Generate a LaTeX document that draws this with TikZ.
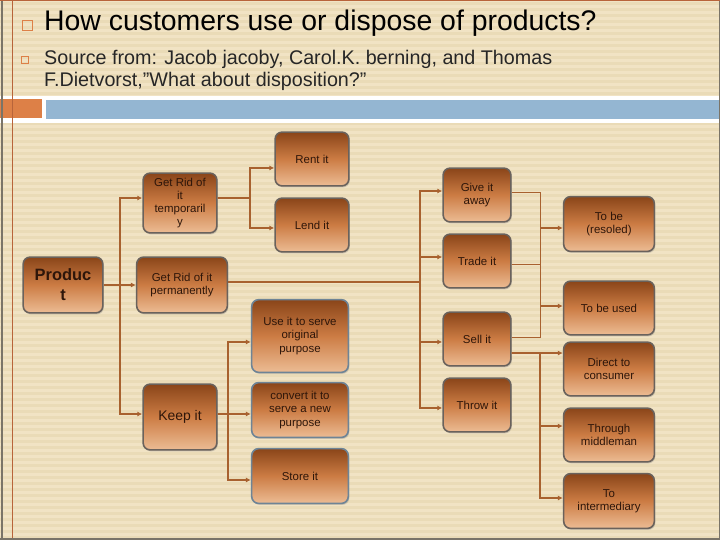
\documentclass[tikz,border=0pt]{standalone}
\usepackage{fontspec}
\setmainfont{Liberation Sans}
\usetikzlibrary{arrows.meta,shadows}
\definecolor{slidebg}{HTML}{F1E3C4}
\definecolor{stripe}{HTML}{EADBB7}
\definecolor{framegrey}{HTML}{7A7468}
\definecolor{rustline}{HTML}{B8643A}
\definecolor{barorange}{HTML}{DD8047}
\definecolor{barblue}{HTML}{94B6D2}
\definecolor{boxtop}{HTML}{8A4519}
\definecolor{boxmid}{HTML}{CC7C44}
\definecolor{boxbot}{HTML}{ECBC94}
\definecolor{boxedge}{HTML}{6A625C}
\definecolor{blueedge}{HTML}{6E8496}
\definecolor{boxtext}{HTML}{2E160A}
\definecolor{linkc}{HTML}{A8612F}

\begin{document}
\begin{tikzpicture}[x=1bp,y=-1bp,
  box/.style={draw=boxedge, line width=1.6pt, rounded corners=7pt,
    top color=boxtop, bottom color=boxbot, middle color=boxmid,
    text=boxtext, align=center, inner sep=2pt,
    font=\fontsize{11.5}{13.3}\selectfont,
    drop shadow={shadow xshift=1pt,shadow yshift=-1.5pt,opacity=0.35}},
  bluebox/.style={box, draw=blueedge},
  link/.style={draw=linkc, line width=1.8pt},
  thinlink/.style={draw=linkc, line width=0.9pt},
  arr/.style={link, -{Latex[length=5pt,width=5pt]}}]
  \useasboundingbox (0,0) rectangle (720,540);

  %slide background
  \fill[slidebg] (0,0) rectangle (720,540);
  \foreach \y in {2,8,...,536} {
    \fill[stripe] (0,\y) rectangle (720,\y+3);
  }
  \fill[white] (0,96) rectangle (720,123);
  \fill[barorange] (0,99) rectangle (42,118);
  \fill[barblue] (46,100) rectangle (720,119);
  \draw[line width=1.5pt, framegrey] (2,0) -- (2,540);
  \draw[line width=0.8pt, rustline] (12,0) -- (12,540);
  \draw[line width=1.5pt, framegrey] (0,539) -- (720,539);
  \draw[line width=1pt, framegrey] (719,0) -- (719,540);
  \draw[line width=1.2pt, rustline] (0,0.6) -- (720,0.6);

  %heading
  \node[draw=barorange, line width=0.9pt, minimum size=10, inner sep=0] (bul1) at (27.5,25.5) {};
  \node[draw=barorange, line width=0.6pt, minimum size=7.5, inner sep=0] (bul2) at (25,60) {};
  \node[anchor=base west, inner sep=0, font=\fontsize{28.5}{32}\selectfont] (title) at (44,31) {How customers use or dispose of products?};
  \node[anchor=base west, inner sep=0, font=\fontsize{19.8}{22}\selectfont, text=black!85] (src1) at (44,65) {Source from: Jacob jacoby, Carol.K. berning, and Thomas};
  \node[anchor=base west, inner sep=0, font=\fontsize{19.8}{22}\selectfont, text=black!85] (src2) at (44,87) {F.Dietvorst,”What about disposition?”};

  %boxes
  \node[box, minimum width=80, minimum height=56, font=\fontsize{16.5}{20}\selectfont\bfseries] (prod) at (63,285) {Produc\\t};
  \node[box, minimum width=74, minimum height=60] (tmp) at (180,203) {Get Rid of\\it\\temporaril\\y};
  \node[box, minimum width=91, minimum height=56] (perm) at (182,285) {Get Rid of it\\permanently};
  \node[box, minimum width=74, minimum height=66, font=\fontsize{14}{16}\selectfont] (keep) at (180,417) {Keep it};
  \node[box, minimum width=74, minimum height=54] (rent) at (312,159) {Rent it};
  \node[box, minimum width=74, minimum height=54] (lend) at (312,225) {Lend it};
  \node[bluebox, minimum width=97, minimum height=73] (orig) at (300,336) {Use it to serve\\original\\purpose};
  \node[bluebox, minimum width=97, minimum height=55] (conv) at (300,410) {convert it to\\serve a new\\purpose};
  \node[bluebox, minimum width=97, minimum height=55] (store) at (300,476) {Store it};
  \node[box, minimum width=68, minimum height=54] (give) at (477,195) {Give it\\away};
  \node[box, minimum width=68, minimum height=54] (trade) at (477,261) {Trade it};
  \node[box, minimum width=68, minimum height=54] (sell) at (477,339) {Sell it};
  \node[box, minimum width=68, minimum height=54] (throw) at (477,405) {Throw it};
  \node[box, minimum width=91, minimum height=55] (resold) at (609,224) {To be\\(resoled)};
  \node[box, minimum width=91, minimum height=54] (used) at (609,308) {To be used};
  \node[box, minimum width=91, minimum height=54] (direct) at (609,369) {Direct to\\consumer};
  \node[box, minimum width=91, minimum height=54] (middle) at (609,435) {Through\\middleman};
  \node[box, minimum width=91, minimum height=55] (inter) at (609,501) {To\\intermediary};

  %from the product
  \coordinate (pj) at (120,285);
  \draw[link] (prod.east) -- (pj);
  \draw[arr] (pj) |- ([yshift=5]tmp.west);
  \draw[arr] (pj) -- (perm.west);
  \draw[arr] (pj) |- ([yshift=3]keep.west);

  %temporarily
  \coordinate (tj) at (250,198);
  \draw[link] ([yshift=5]tmp.east) -- (tj);
  \draw[arr] (tj) |- ([yshift=-9]rent.west);
  \draw[arr] (tj) |- ([yshift=-3]lend.west);

  %permanently
  \coordinate (gj) at (420,282);
  \draw[link] ([yshift=3]perm.east) -- (gj);
  \draw[arr] (gj) |- ([yshift=4]give.west);
  \draw[arr] (gj) |- ([yshift=4]trade.west);
  \draw[arr] (gj) |- ([yshift=-3]sell.west);
  \draw[arr] (gj) |- ([yshift=-3]throw.west);

  %resale and reuse
  \coordinate (rj) at (540,228);
  \coordinate (uj) at (540,306);
  \draw[thinlink] ([yshift=3]give.east) -| (rj);
  \draw[thinlink] ([yshift=-3]trade.east) -| (rj);
  \draw[thinlink] ([yshift=-3]trade.east) -| (uj);
  \draw[thinlink] ([yshift=2]sell.east) -| (uj);
  \draw[arr] (rj) -- ([yshift=-4]resold.west);
  \draw[arr] (uj) -- ([yshift=2]used.west);

  %sale channels
  \coordinate (sj) at (540,353);
  \draw[arr] ([yshift=-14]sell.east) -- ([yshift=16]direct.west);
  \draw[arr] (sj) |- ([yshift=9]middle.west);
  \draw[arr] (sj) |- ([yshift=3]inter.west);

  %keep it
  \coordinate (kj) at (228,414);
  \draw[link] ([yshift=3]keep.east) -- (kj);
  \draw[arr] (kj) |- ([yshift=-6]orig.west);
  \draw[arr] (kj) |- ([yshift=-4]conv.west);
  \draw[arr] (kj) |- ([yshift=-4]store.west);
\end{tikzpicture}
\end{document}
